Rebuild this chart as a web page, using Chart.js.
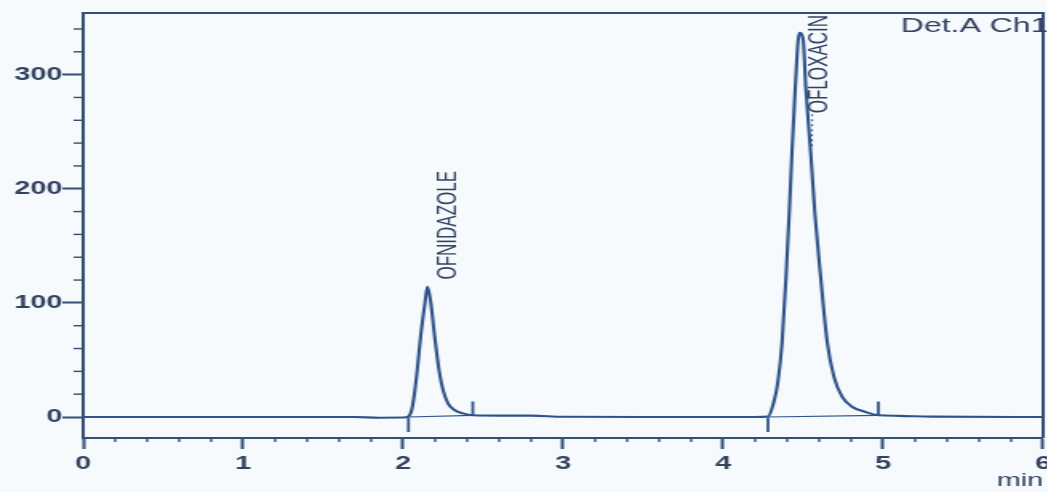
<!DOCTYPE html>
<html>
<head>
<meta charset="utf-8">
<script src="https://cdn.jsdelivr.net/npm/chart.js@4.4.1/dist/chart.umd.min.js"></script>
<style>
  html, body { margin: 0; padding: 0; overflow: hidden; background: #f6fafd; }
  #chrom { display: block; transform: scaleX(1.6); transform-origin: 0 0; }
</style>
</head>
<body>
<canvas id="chrom" width="661" height="492"></canvas>
<script>
// retention time (min) and detector response
const times = [0, 1.0, 1.7, 1.85, 2.0, 2.033, 2.053, 2.068, 2.088, 2.109, 2.136, 2.152, 2.173, 2.197,
  2.224, 2.249, 2.28, 2.321, 2.373, 2.435, 2.6, 2.8, 3.0, 3.5, 4.0, 4.2, 4.28, 4.315, 4.341, 4.368,
  4.393, 4.414, 4.43, 4.451, 4.476, 4.5, 4.516, 4.547, 4.574, 4.609, 4.651, 4.692, 4.743, 4.805,
  4.885, 4.97, 5.1, 5.3, 6.0];
const signal = [0, 0, 0, -0.6, -0.5, 0.5, 6.1, 17.8, 41.2, 70.4, 99.7, 114.3, 99.7, 70.4,
  41.2, 23.7, 12.0, 6.1, 3.2, 1.5, 1.2, 1.2, 0.2, 0, 0, 0, 0.3, 12.3, 29.8, 64.9,
  123, 181.6, 231.6, 289.7, 336.6, 330.7, 289.7, 231.6, 177, 123, 64.9, 35.4, 17.8, 9.0,
  4.6, 1.5, 1.0, 0.3, 0];

const peakNames = ["OFNIDAZOLE", "OFLOXACIN"];
const peakTimes = [2.152, 4.476];
const peakHeights = [114.3, 336.6];
const peakStarts = [2.033, 4.28];
const peakEnds = [2.435, 4.97];
const peakEndLevels = [1.5, 1.5];

const xTicks = [0, 1, 2, 3, 4, 5, 6];
const yTicks = [0, 100, 200, 300];

const LINE = "#2f5389";
const AXIS = "#344e75";
const TEXT = "#33425f";
const FONT = "'Liberation Sans', Arial, sans-serif";

const datasets = [
  {
    data: times.map((t, i) => ({ x: t, y: signal[i] })),
    borderColor: LINE,
    borderWidth: 2.1,
    pointRadius: 0,
    cubicInterpolationMode: "monotone",
  },
];
peakStarts.forEach((s, i) => {
  datasets.push({
    data: [{ x: s, y: 0 }, { x: peakEnds[i], y: peakEndLevels[i] }],
    borderColor: LINE,
    borderWidth: 1.2,
    pointRadius: 0,
  });
});
// integration markers: start below the baseline, end above it
datasets.push({
  data: peakStarts.map((s) => ({ x: s, y: -7 })).concat(peakEnds.map((e) => ({ x: e, y: 7.5 }))),
  showLine: false,
  pointStyle: "line",
  rotation: 90,
  pointRadius: 7,
  pointBorderWidth: 1.8,
  borderColor: LINE,
});

const extras = {
  id: "extras",
  afterDraw(chart) {
    const { ctx, chartArea: a, scales: { x, y } } = chart;
    const seg = (x1, y1, x2, y2) => {
      ctx.beginPath(); ctx.moveTo(x1, y1); ctx.lineTo(x2, y2); ctx.stroke();
    };
    ctx.save();
    ctx.strokeStyle = AXIS;
    ctx.lineWidth = 2;
    ctx.beginPath();
    ctx.moveTo(a.left - 1, a.top);
    ctx.lineTo(a.right, a.top);
    ctx.lineTo(a.right, a.bottom);
    ctx.stroke();

    // minor ticks
    ctx.lineWidth = 1.4;
    for (let v = 20; v < y.max; v += 20) {
      if (v % 100 === 0) continue;
      const py = y.getPixelForValue(v);
      seg(a.left - 6, py, a.left, py);
    }
    for (let i = 1; i < 30; i++) {
      if (i % 5 === 0) continue;
      const px = x.getPixelForValue(i / 5);
      seg(px, a.bottom, px, a.bottom + 4);
    }

    // peak names, rotated
    ctx.fillStyle = TEXT;
    ctx.strokeStyle = LINE;
    ctx.font = "17px " + FONT;
    ctx.textBaseline = "middle";
    peakNames.forEach((name, i) => {
      const px = x.getPixelForValue(peakTimes[i]) + 13;
      let start = y.getPixelForValue(peakHeights[i]) - 7;
      const w = ctx.measureText(name).width;
      if (start - w < a.top + 2) {
        start = a.top + 2 + w;
        ctx.lineWidth = 1;
        ctx.setLineDash([2, 3]);
        seg(px - 5, start + 1, px - 5, start + 34);
        ctx.setLineDash([]);
      }
      ctx.save();
      ctx.translate(px, start);
      ctx.rotate(-Math.PI / 2);
      ctx.textAlign = "left";
      ctx.fillText(name, 0, 0);
      ctx.restore();
    });

    ctx.font = "20px " + FONT;
    ctx.textBaseline = "alphabetic";
    ctx.textAlign = "left";
    ctx.fillText("Det.A Ch1", a.right - 89, 32);
    ctx.restore();
  },
};

new Chart(document.getElementById("chrom").getContext("2d"), {
  type: "line",
  data: { datasets },
  plugins: [extras],
  options: {
    responsive: false,
    animation: false,
    layout: { autoPadding: false, padding: { top: 13, right: 3, left: 0, bottom: 0 } },
    plugins: { legend: { display: false }, tooltip: { enabled: false } },
    scales: {
      x: {
        type: "linear",
        min: 0,
        max: 6,
        afterBuildTicks: (s) => { s.ticks = xTicks.map((v) => ({ value: v })); },
        afterFit: (s) => { s.height = 54; },
        ticks: { color: TEXT, font: { family: FONT, size: 18, weight: "bold" }, padding: 4, maxRotation: 0, autoSkip: false },
        grid: { drawOnChartArea: false, tickLength: 11, tickColor: AXIS, tickWidth: 2 },
        border: { color: AXIS, width: 2 },
        title: { display: true, text: "min", align: "end", color: TEXT, font: { family: FONT, size: 18 }, padding: 0 },
      },
      y: {
        min: -18.4,
        max: 354,
        afterBuildTicks: (s) => { s.ticks = yTicks.map((v) => ({ value: v })); },
        afterFit: (s) => { s.width = 52; },
        ticks: { color: TEXT, font: { family: FONT, size: 18, weight: "bold" }, padding: 0 },
        grid: { drawOnChartArea: false, tickLength: 13, tickColor: AXIS, tickWidth: 2 },
        border: { color: AXIS, width: 2 },
      },
    },
  },
});
</script>
</body>
</html>
